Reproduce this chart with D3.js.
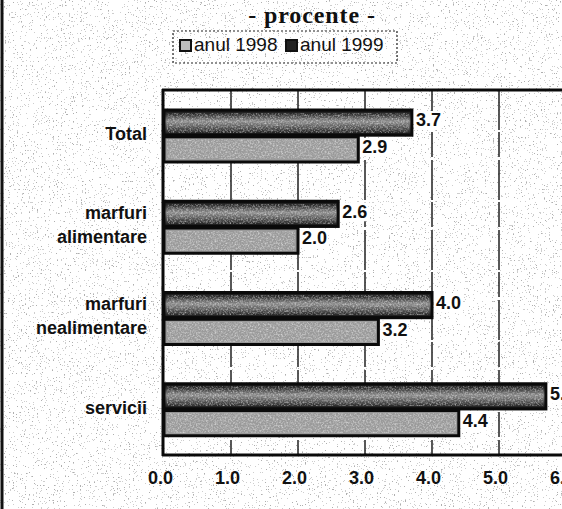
<!DOCTYPE html>
<html>
<head>
<meta charset="utf-8">
<script src="https://cdn.jsdelivr.net/npm/d3@7"></script>
<style>
  html, body { margin: 0; padding: 0; background: #ffffff; }
  svg { display: block; }
</style>
</head>
<body>
<div id="chart"></div>
<script>
// ---- data ----
const categories = ["Total", "marfuri alimentare", "marfuri nealimentare", "servicii"];
const series = ["anul 1999", "anul 1998"];
const values1999 = [3.7, 2.6, 4.0, 5.7];
const values1998 = [2.9, 2.0, 3.2, 4.4];
const tickValues = [0, 1, 2, 3, 4, 5, 6];
const titleText = "- procente -";

const W = 562, H = 509;
const svg = d3.select("#chart").append("svg").attr("width", W).attr("height", H);
const defs = svg.append("defs");

// speckle noise filter (scanned look)
const speck = defs.append("filter").attr("id", "speck").attr("x", 0).attr("y", 0).attr("width", "100%").attr("height", "100%");
speck.append("feTurbulence").attr("type", "fractalNoise").attr("baseFrequency", 0.75).attr("numOctaves", 2).attr("seed", 3).attr("result", "t");
speck.append("feColorMatrix").attr("in", "t").attr("type", "matrix")
  .attr("values", "0 0 0 0 0  0 0 0 0 0  0 0 0 0 0  -3 0 0 0 1.55");
speck.append("feComponentTransfer").append("feFuncA").attr("type", "discrete").attr("tableValues", "0 0 0 0.55 0.9");

const grain = defs.append("filter").attr("id", "grain").attr("x", 0).attr("y", 0).attr("width", "100%").attr("height", "100%");
grain.append("feTurbulence").attr("type", "fractalNoise").attr("baseFrequency", 0.6).attr("numOctaves", 2).attr("seed", 7).attr("result", "t");
grain.append("feColorMatrix").attr("in", "t").attr("type", "matrix")
  .attr("values", "0 0 0 0 1  0 0 0 0 1  0 0 0 0 1  2.2 0 0 0 -0.9");

const gDark = defs.append("linearGradient").attr("id", "gDark").attr("x1", 0).attr("y1", 0).attr("x2", 0).attr("y2", 1);
[[0, "#0d0d0d"], [0.18, "#333"], [0.45, "#8c8c8c"], [0.7, "#555"], [1, "#0d0d0d"]]
  .forEach(([o, c]) => gDark.append("stop").attr("offset", o).attr("stop-color", c));

// background speckle
svg.append("rect").attr("width", W).attr("height", H).attr("fill", "#fff");
svg.append("rect").attr("width", W).attr("height", H).attr("filter", "url(#speck)").attr("opacity", 0.35);

// left edge of scanned page
svg.append("line").attr("x1", 2).attr("x2", 2).attr("y1", 0).attr("y2", H).attr("stroke", "#111").attr("stroke-width", 3);

// ---- scales ----
const x = d3.scaleLinear().domain([0, 6]).range([164, 566]);
const y = d3.scaleBand().domain(categories).range([90, 455]);
const y1 = d3.scaleBand().domain(series).range([20, 72]).paddingInner(0.06);

// gridlines
const gridG = svg.append("g");
gridG.selectAll("line").data(tickValues.filter(d => d > 0)).join("line")
  .attr("x1", d => x(d)).attr("x2", d => x(d))
  .attr("y1", 90).attr("y2", 455)
  .attr("stroke", "#222").attr("stroke-width", 1.5)
  .attr("stroke-dasharray", "40,2,25,3");

// bars
const groups = svg.append("g").selectAll("g").data(categories).join("g")
  .attr("transform", d => `translate(0,${y(d)})`);

function drawBars(vals, key, fill, lblOffset) {
  groups.append("rect")
    .attr("x", x(0)).attr("y", y1(key))
    .attr("width", (d, i) => x(vals[i]) - x(0)).attr("height", y1.bandwidth())
    .attr("fill", fill).attr("stroke", "#0a0a0a").attr("stroke-width", 3);
  groups.append("rect")
    .attr("x", x(0) + 3).attr("y", y1(key) + 3)
    .attr("width", (d, i) => x(vals[i]) - x(0) - 6).attr("height", y1.bandwidth() - 6)
    .attr("filter", "url(#grain)").attr("opacity", 0.55);
  // value labels with white box
  const lg = groups.append("g")
    .attr("transform", (d, i) => `translate(${x(vals[i]) + 2},${y1(key) + lblOffset})`);
  lg.append("rect").attr("x", 0).attr("y", -9).attr("width", 28).attr("height", 19).attr("fill", "#fff");
  lg.append("text").attr("x", 2).attr("y", 0).attr("dy", "0.35em")
    .attr("font-family", "Liberation Sans, Arial, sans-serif").attr("font-weight", "bold")
    .attr("font-size", 18).attr("fill", "#111")
    .text((d, i) => d3.format(".1f")(vals[i]));
}
drawBars(values1999, "anul 1999", "url(#gDark)", 10);
drawBars(values1998, "anul 1998", "#9a9a9a", 10);

// frame: left, top, bottom
const frame = svg.append("g").attr("stroke", "#0a0a0a").attr("stroke-width", 3);
frame.append("line").attr("x1", x(0) - 1).attr("x2", x(0) - 1).attr("y1", 89).attr("y2", 456);
frame.append("line").attr("x1", x(0) - 2).attr("x2", W).attr("y1", 90).attr("y2", 90);
frame.append("line").attr("x1", x(0) - 2).attr("x2", W).attr("y1", 455).attr("y2", 455);

// category labels
const catG = svg.append("g").selectAll("text").data(categories).join("text")
  .attr("text-anchor", "end")
  .attr("font-family", "Liberation Sans, Arial, sans-serif").attr("font-weight", "bold")
  .attr("font-size", 18).attr("fill", "#111")
  .attr("transform", d => `translate(147,${y(d) + y.bandwidth() / 2})`);
catG.each(function (d) {
  const parts = d.split(" ");
  const t = d3.select(this);
  const n = parts.length;
  parts.forEach((p, i) => {
    t.append("tspan").attr("x", 0)
      .attr("y", (i - (n - 1) / 2) * 24 - 2)
      .attr("dy", "0.35em").text(p);
  });
});

// x axis
const axis = d3.axisBottom(x).tickValues(tickValues).tickSize(0).tickPadding(16)
  .tickFormat(d => d3.format(".1f")(d));
const ax = svg.append("g").attr("transform", "translate(0,455)").call(axis);
ax.select(".domain").remove();
ax.selectAll("text")
  .attr("font-family", "Liberation Sans, Arial, sans-serif").attr("font-weight", "bold")
  .attr("font-size", 18).attr("fill", "#111").attr("dx", -4);

// title
svg.append("text").attr("x", 312).attr("y", 23).attr("text-anchor", "middle")
  .attr("font-family", "Liberation Serif, Times New Roman, serif").attr("font-weight", "bold")
  .attr("font-size", 24).attr("letter-spacing", 0.9).attr("fill", "#111")
  .text(titleText);

// legend
const leg = svg.append("g");
leg.append("rect").attr("x", 173).attr("y", 31).attr("width", 224).attr("height", 32)
  .attr("fill", "none").attr("stroke", "#222").attr("stroke-width", 1.2).attr("stroke-dasharray", "2,2");
const legItems = [
  { key: "anul 1998", x: 180, fill: "#bbb" },
  { key: "anul 1999", x: 286, fill: "#222" }
];
legItems.forEach(it => {
  leg.append("rect").attr("x", it.x).attr("y", 40).attr("width", 11).attr("height", 11)
    .attr("fill", it.fill).attr("stroke", "#111").attr("stroke-width", 2);
  leg.append("text").attr("x", it.x + 14).attr("y", 51)
    .attr("font-family", "Liberation Sans, Arial, sans-serif")
    .attr("font-size", 19).attr("fill", "#111").text(it.key);
});
</script>
</body>
</html>
